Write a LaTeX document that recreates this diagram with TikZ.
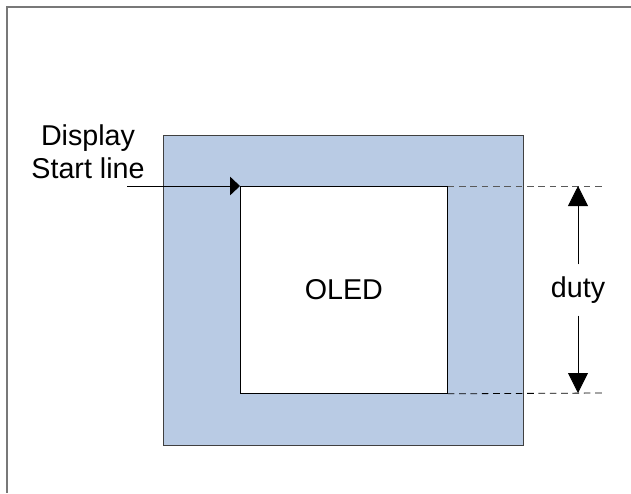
\documentclass[tikz,border=0pt]{standalone}
\usepackage{fontspec}
\setmainfont{Liberation Sans}
\usetikzlibrary{arrows.meta,positioning}
\definecolor{panelblue}{RGB}{185,203,228}
\definecolor{framegray}{RGB}{120,120,120}
\tikzset{
  frameline/.style={draw=framegray, line width=1.8pt},
  guide/.style={dash pattern=on 5pt off 3.5pt, line width=0.6pt},
  marker/.style={-{Triangle[length=15pt,width=15pt]}, line width=0.6pt},
  lbl/.style={font=\fontsize{21.5}{25}\selectfont, align=center, inner sep=0pt}
}
\begin{document}
\begin{tikzpicture}[x=0.75pt, y=-0.75pt]
    \useasboundingbox (0,0) rectangle (631,493);
    % page frame
    \draw[frameline] (631,7) -- (7,7) -- (7,493);
    % panel and active area
    \node[draw=black!75, fill=panelblue, line width=0.8pt, inner sep=0pt, minimum width=270pt, minimum height=232.5pt, anchor=north west] (panel) at (163,135) {};
    \node[draw=black, fill=white, line width=0.6pt, inner sep=0pt, minimum width=155.25pt, minimum height=155.25pt, anchor=north west, lbl] (oled) at (240,186) {OLED};
    % start line
    \node[lbl] (startlbl) at (88,152) {Display\\Start line};
    \coordinate (startin) at (127,186);
    \draw[line width=0.6pt, -{Triangle[length=7.5pt,width=14pt]}] (startin) -- (oled.north west);
    % duty guides
    \coordinate (guidetop) at (602,186);
    \coordinate (guidebot) at (602,393);
    \draw[guide, draw=black!65] (oled.north east) -- (guidetop);
    \draw[guide] (oled.south east) -- (guidebot);
    \node[lbl, inner ysep=9pt] (duty) at (578,290) {duty};
    \draw[marker] (duty.north) -- (duty.north |- guidetop);
    \draw[marker] (duty.south) -- (duty.south |- guidebot);
\end{tikzpicture}
\end{document}
